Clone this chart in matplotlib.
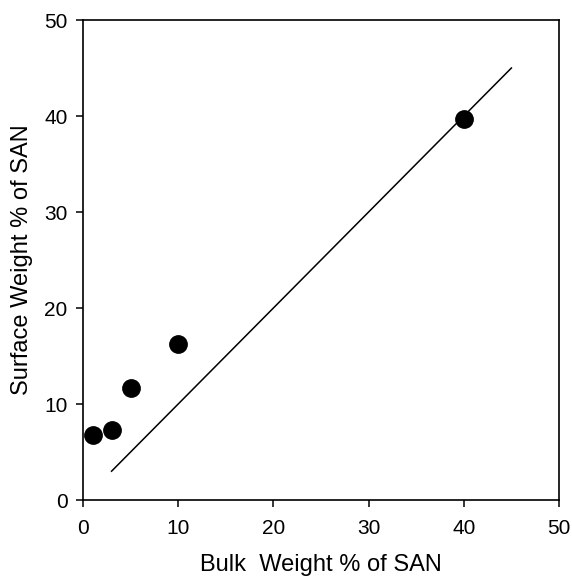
import matplotlib
matplotlib.use("Agg")
import matplotlib.pyplot as plt

# Bulk vs surface composition of SAN
bulk_wt = [1, 3, 5, 10, 40]
surface_wt = [6.8, 7.3, 11.7, 16.2, 39.7]

# Reference line: surface = bulk
ref_x = [3, 45]
ref_y = [3, 45]

ticks = [0, 10, 20, 30, 40, 50]

plt.rcParams['font.family'] = ['Liberation Sans', 'DejaVu Sans']

fig = plt.figure(figsize=(5.72, 5.78), dpi=100)
W, H = 572, 578
left, right, top, bottom = 83, 559, 20, 500
ax = fig.add_axes([left / W, 1 - bottom / H, (right - left) / W, (bottom - top) / H])

ax.plot(ref_x, ref_y, color='black', lw=1.1)
ax.plot(bulk_wt, surface_wt, 'o', color='black', markersize=12.5, zorder=3)

ax.set_xlim(0, 50)
ax.set_ylim(0, 50)
ax.set_xticks(ticks)
ax.set_yticks(ticks)
ax.tick_params(direction='out', length=5, width=1.1, labelsize=15)
ax.tick_params(axis='x', pad=9)
ax.tick_params(axis='y', pad=6)
for s in ax.spines.values():
    s.set_linewidth(1.2)

ax.set_xlabel('Bulk  Weight % of SAN', fontsize=17, va='baseline')
ax.xaxis.set_label_coords(0.5, -0.147)
ax.set_ylabel('Surface Weight % of SAN', fontsize=17, va='center')
ax.yaxis.set_label_coords(-0.128, 0.5)

fig.savefig('out.png', dpi=100)
